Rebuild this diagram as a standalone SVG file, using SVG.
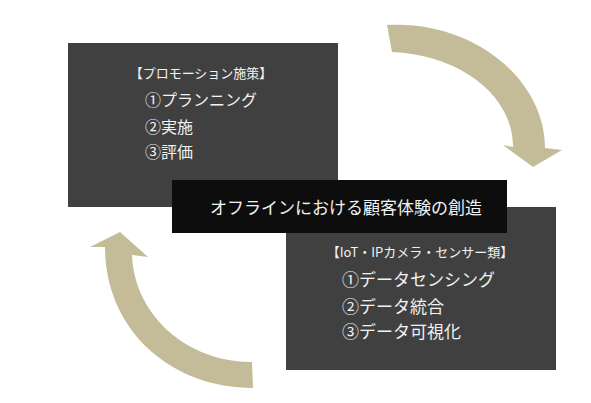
<svg xmlns="http://www.w3.org/2000/svg" width="591" height="403" viewBox="0 0 591 403">
<style>
.box{fill:#404040}
.dark{fill:#0d0d0d}
.arr{fill:#c4bc98}
text{font-family:"Noto Sans CJK JP","Noto Sans CJK SC",sans-serif;fill:#f2f2f2}
.h{font-size:13px}
.l{font-size:16px}
.c{font-size:17px}
</style>
<rect width="591" height="403" fill="#ffffff"/>
<g id="connectors">
<path class="arr" d="M387,25 C474,20 545,80 545,148 L562,150 L533,167 L503,145 L513,147 C513,95 460,55 392,52 Z"/>
<path class="arr" d="M253,388 C171,388 105,330 105,247 L90,247 L120,232 L148,257 L132,255 C134,314 186,362 252,362 Z"/>
</g>
<g id="promotion">
<rect class="box" x="68" y="43" width="270" height="164"/>
<text class="h" x="201" y="78" text-anchor="middle">【プロモーション施策】</text>
<text class="l" x="145" y="106">①プランニング</text>
<text class="l" x="145" y="133">②実施</text>
<text class="l" x="145" y="158">③評価</text>
</g>
<g id="iot">
<rect class="box" x="286" y="207" width="270" height="163"/>
<text class="h" x="420" y="257" text-anchor="middle">【IoT・IPカメラ・センサー類】</text>
<text class="c" x="342" y="286">①データセンシング</text>
<text class="c" x="342" y="313">②データ統合</text>
<text class="c" x="342" y="338">③データ可視化</text>
</g>
<g id="center">
<rect class="dark" x="172" y="180" width="335" height="53"/>
<text class="c" x="346" y="214" text-anchor="middle">オフラインにおける顧客体験の創造</text>
</g>
</svg>
